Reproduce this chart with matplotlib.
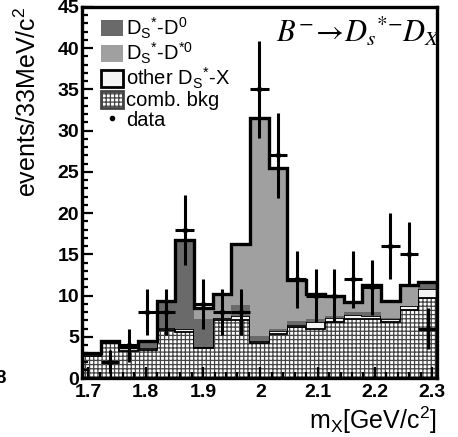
import numpy as np
import matplotlib.pyplot as plt
from matplotlib.patches import Patch
from matplotlib.lines import Line2D

plt.rcParams['font.family'] = ['Liberation Sans', 'DejaVu Sans']
plt.rcParams['mathtext.fontset'] = 'custom'
plt.rcParams['mathtext.rm'] = 'Liberation Sans'
plt.rcParams['mathtext.it'] = 'Liberation Sans:italic'
plt.rcParams['hatch.linewidth'] = 0.9

# bin range in m_X [GeV/c^2], 19 bins of ~33 MeV
x_lo, x_hi, nbins = 1.6887, 2.3082, 19

# stacked components (bottom -> top)
comb_bkg = [2.7, 4.2, 3.3, 3.4, 5.8, 5.6, 3.6, 7.0, 7.0, 4.3, 5.3, 6.2, 6.0, 6.8, 7.2, 7.2, 6.8, 8.3, 9.7]
other_x  = [0.3, 0.3, 0.5, 0.2, 0.3, 0.3, 0.2, 0.3, 0.5, 0.2, 0.4, 0.2, 0.8, 0.5, 0.4, 0.3, 0.3, 0.4, 1.1]
ds_d0    = [0.0, 0.0, 0.0, 0.9, 3.3, 10.8, 3.4, 0.0, 1.3, 0.6, 0.2, 0.5, 0.3, 0.2, 0.4, 0.5, 0.2, 0.0, 0.6]
ds_dst0  = [0.0, 0.0, 0.0, 0.0, 0.0, 0.0, 1.3, 2.9, 7.4, 26.4, 19.6, 5.0, 3.1, 2.4, 1.2, 3.3, 2.0, 2.6, 0.2]

# data counts per bin
data = [0, 2, 4, 8, 8, 18, 9, 8, 8, 35, 27, 12, 10, 10, 12, 11, 16, 15, 6]

edges = np.linspace(x_lo, x_hi, nbins + 1)
centers = 0.5 * (edges[:-1] + edges[1:])
width = edges[1] - edges[0]

b = np.array(comb_bkg)
o = np.array(other_x)
d0 = np.array(ds_d0)
ds = np.array(ds_dst0)
n = np.array(data, dtype=float)

fig = plt.figure(figsize=(4.58, 4.37), dpi=100)
ax = fig.add_axes([0.179, 0.135, 0.775, 0.849])

dark = '#6a6a6a'
light = '#a0a0a0'

ax.stairs(b, edges, baseline=0, fill=True, facecolor='white',
          edgecolor='#444444', hatch='++++', linewidth=0)
ax.stairs(b + o, edges, baseline=b, fill=True, facecolor='#f4f4f4',
          edgecolor='k', linewidth=1.3)
ax.stairs(b + o + d0, edges, baseline=b + o, fill=True, facecolor=dark, linewidth=0)
ax.stairs(b + o + d0 + ds, edges, baseline=b + o + d0, fill=True, facecolor=light, linewidth=0)
ax.stairs(b + o + d0 + ds, edges, baseline=0, color='k', linewidth=2.4)

m = n > 0
ax.errorbar(centers[m], n[m], yerr=np.sqrt(n[m]), xerr=width / 2, fmt='o', ms=3,
            color='k', elinewidth=2.2, capsize=0)

ax.set_xlim(x_lo, x_hi)
ax.set_ylim(0, 45)
ax.set_xticks([1.7, 1.8, 1.9, 2.0, 2.1, 2.2, 2.3])
ax.set_xticklabels(['1.7', '1.8', '1.9', '2', '2.1', '2.2', '2.3'])
ax.set_xticks(np.arange(1.70, 2.31, 0.02), minor=True)
ax.set_yticks(np.arange(0, 46, 5))
ax.set_yticks(np.arange(0, 46, 1), minor=True)
ax.tick_params(which='both', direction='in', width=1.6, labelsize=14, pad=2)
ax.tick_params(axis='x', pad=4)
ax.tick_params(which='major', length=8)
ax.tick_params(which='minor', length=4.5)
for lab in ax.get_xticklabels() + ax.get_yticklabels():
    lab.set_fontweight('bold')
for s in ax.spines.values():
    s.set_linewidth(2.4)

ax.set_ylabel(r'events/33MeV/c$^2$', fontsize=18, loc='top')
ax.yaxis.set_label_coords(-0.115, 1.0)
ax.set_xlabel(r'm$_{\rm X}$[GeV/c$^2$]', fontsize=18, loc='right', labelpad=3)

ax.text(1.012, 0.905, r'$B^{-}\!\rightarrow\! D_s{}^{*\!-}\!D_X$', transform=ax.transAxes,
        ha='right', va='baseline', fontsize=22, family='DejaVu Serif',
        math_fontfamily='stix')

handles = [
    Patch(facecolor=dark, edgecolor='none'),
    Patch(facecolor=light, edgecolor='none'),
    Patch(facecolor='#f4f4f4', edgecolor='k', linewidth=2),
    Patch(facecolor='white', edgecolor='#444444', hatch='++++', linewidth=2),
    Line2D([], [], marker='o', ms=3, color='k', linestyle='none'),
]
labels = [r'D$_{\rm S}$$^{*}$-D$^{0}$', r'D$_{\rm S}$$^{*}$-D$^{*0}$',
          r'other D$_{\rm S}$$^{*}$-X', 'comb. bkg', 'data']
ax.legend(handles, labels, loc='upper left', bbox_to_anchor=(0.02, 1.01),
          frameon=False, fontsize=14.5, handlelength=1.1, handleheight=0.9,
          handletextpad=0.15, labelspacing=0.0, borderaxespad=0.2)

fig.text(0.013, 0.135, '8', ha='right', va='center', fontsize=13.5, fontweight='bold')

plt.savefig('out.png', dpi=100)
